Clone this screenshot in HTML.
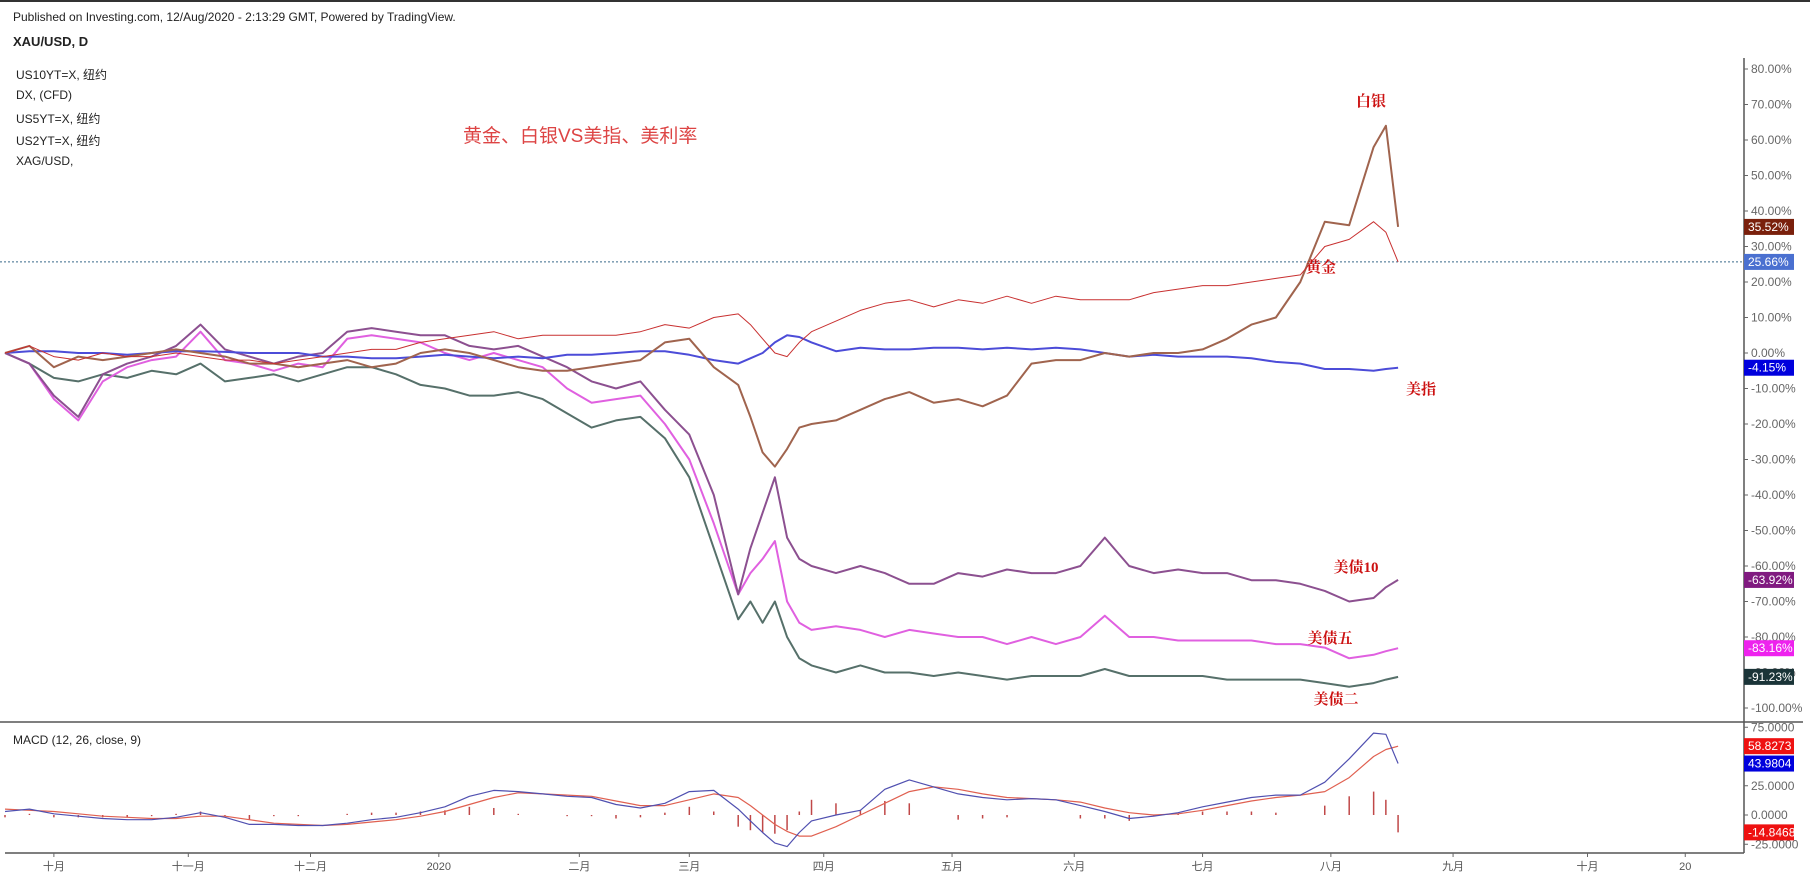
<!DOCTYPE html>
<html><head><meta charset="utf-8">
<style>
html,body{margin:0;padding:0;background:#fff;}
body{width:1810px;height:876px;overflow:hidden;position:relative;font-family:"Liberation Sans","Noto Sans CJK SC",sans-serif;}
.t{position:absolute;font-size:12px;color:#222;white-space:nowrap;}
</style></head>
<body>
<div style="position:absolute;left:0;top:0;width:1810px;height:2px;background:#333"></div>
<div class="t" style="left:13px;top:10px;">Published on Investing.com, 12/Aug/2020 - 2:13:29 GMT, Powered by TradingView.</div>
<div class="t" style="left:13px;top:34px;font-weight:bold;font-size:13px;">XAU/USD, D</div>
<div class="t" style="left:16px;top:66px;">US10YT=X, 纽约</div>
<div class="t" style="left:16px;top:88px;">DX, (CFD)</div>
<div class="t" style="left:16px;top:110px;">US5YT=X, 纽约</div>
<div class="t" style="left:16px;top:132px;">US2YT=X, 纽约</div>
<div class="t" style="left:16px;top:154px;">XAG/USD,</div>
<div class="t" style="left:463px;top:121px;font-size:19px;color:#d44;">黄金、白银VS美指、美利率</div>
<div class="t" style="left:13px;top:733px;">MACD (12, 26, close, 9)</div>

<svg id="chart" width="1810" height="876" style="position:absolute;left:0;top:0" xmlns="http://www.w3.org/2000/svg"></svg>

<script>
const days = [0,4,8,12,16,20,24,28,32,36,40,44,48,52,56,60,64,68,72,76,80,84,88,92,96,100,104,108,112,116,120,122,124,126,128,130,132,136,140,144,148,152,156,160,164,168,172,176,180,184,188,192,196,200,204,208,212,216,220,224,226,228];
const gold = [0,2,-1,-2,0,-1,-1,0,-1,-2,-2,-3,-2,-1,0,1,1,3,4,5,6,4,5,5,5,5,6,8,7,10,11,8,4,0,-1,3,6,9,12,14,15,13,15,14,16,14,16,15,15,15,17,18,19,19,20,21,22,30,32,37,34,25.66];
const silver = [0,2,-4,-1,-2,-1,0,1,0,-1,-3,-3,-4,-3,-2,-4,-3,0,1,0,-2,-4,-5,-5,-4,-3,-2,3,4,-4,-9,-18,-28,-32,-27,-21,-20,-19,-16,-13,-11,-14,-13,-15,-12,-3,-2,-2,0,-1,0,0,1,4,8,10,20,37,36,58,64,35.52];
const dollar = [0,0.5,0.5,0,0,-0.5,0,0.5,0.5,0.3,0,0,0,-1,-1,-1.5,-1.5,-1,-0.5,-1,-1.5,-1,-1.5,-0.5,-0.5,0,0.5,0.5,-0.5,-2,-3,-1.5,0,3,5,4.5,3,0.5,1.5,1,1,1.5,1.5,1,1.5,1,1.5,1,0,-1,-0.5,-1,-1,-1,-1.5,-2.5,-3,-4.5,-4.5,-5,-4.5,-4.15];
const us10y = [0,-3,-12,-18,-6,-3,-1,2,8,1,-1,-3,-1,0,6,7,6,5,5,2,1,2,-1,-4,-8,-10,-8,-16,-23,-40,-68,-55,-45,-35,-52,-58,-60,-62,-60,-62,-65,-65,-62,-63,-61,-62,-62,-60,-52,-60,-62,-61,-62,-62,-64,-64,-65,-67,-70,-69,-66,-63.92];
const us5y = [0,-3,-13,-19,-8,-4,-2,-1,6,-2,-3,-5,-3,-4,4,5,4,3,0,-2,0,-2,-4,-10,-14,-13,-12,-20,-30,-48,-68,-62,-58,-53,-70,-76,-78,-77,-78,-80,-78,-79,-80,-80,-82,-80,-82,-80,-74,-80,-80,-81,-81,-81,-81,-82,-82,-83,-86,-85,-84,-83.16];
const us2y = [0,-3,-7,-8,-6,-7,-5,-6,-3,-8,-7,-6,-8,-6,-4,-4,-6,-9,-10,-12,-12,-11,-13,-17,-21,-19,-18,-24,-35,-55,-75,-70,-76,-70,-80,-86,-88,-90,-88,-90,-90,-91,-90,-91,-92,-91,-91,-91,-89,-91,-91,-91,-91,-92,-92,-92,-92,-93,-94,-93,-92,-91.23];
const macdLine = [3,5,1,-1,-3,-4,-4,-2,2,-2,-8,-8,-9,-9,-7,-4,-2,2,7,16,21,20,18,16,15,9,6,10,20,21,5,-5,-15,-24,-27,-15,-5,0,4,22,30,24,18,15,13,14,13,8,3,-3,-1,2,7,11,15,17,17,28,48,70,69,43.98];
const signalLine = [5,4,3,1,-1,-2,-3,-3,-1,-1,-4,-7,-8,-9,-8,-6,-4,-1,3,9,15,19,18,17,16,12,8,8,13,18,15,8,0,-8,-14,-18,-18,-10,0,10,20,24,22,18,15,14,13,11,6,2,0,1,4,8,12,15,17,20,32,50,56,58.83];
const pctTicks = [80,70,60,50,40,30,20,10,0,-10,-20,-30,-40,-50,-60,-70,-80,-90,-100];
const macdTicks = [75,25,0,-25];
const monthLabels = ["十月","十一月","十二月","2020","二月","三月","四月","五月","六月","七月","八月","九月","十月","20"];
const monthDays = [8,30,50,71,94,112,134,155,175,196,217,237,259,275];

const NS="http://www.w3.org/2000/svg";
const svg=document.getElementById('chart');
const AX=1744;
const xOf=d=>5+d*6.11;
const yP=v=>353-v*3.55;
const yM=v=>815-v*1.17;
function mk(tag,attrs,parent){const e=document.createElementNS(NS,tag);for(const k in attrs)e.setAttribute(k,attrs[k]);(parent||svg).appendChild(e);return e;}

// frame
let e;
e=mk('line',{x1:0,y1:722,x2:1803,y2:722,stroke:'#555','stroke-width':1.5});


e=mk('line',{x1:5,y1:853,x2:AX,y2:853,stroke:'#555','stroke-width':1.5});


e=mk('line',{x1:AX,y1:58,x2:AX,y2:853,stroke:'#555','stroke-width':1.5});



// y ticks
pctTicks.forEach(v=>{
  const y=yP(v);
  const l=mk('line',{x1:AX,y1:y,x2:AX+4,y2:y,stroke:'#666'});
  
  
  const t=mk('text',{x:AX+7,y:y+4,'font-size':12,fill:'#666','font-family':'Liberation Sans, sans-serif'});
  t.textContent=v.toFixed(2)+'%';
  
  
});
macdTicks.forEach(v=>{
  const y=yM(v);
  const l=mk('line',{x1:AX,y1:y,x2:AX+4,y2:y,stroke:'#666'});
  
  
  const t=mk('text',{x:AX+7,y:y+4,'font-size':12,fill:'#666','font-family':'Liberation Sans, sans-serif'});
  t.textContent=v.toFixed(4);
  
  
});
monthLabels.forEach((m,i)=>{
  const x=xOf(monthDays[i]);
  const l=mk('line',{x1:x,y1:853,x2:x,y2:857,stroke:'#666'});
  
  
  const t=mk('text',{x:x,y:870,'font-size':11,fill:'#555','text-anchor':'middle','font-family':'Liberation Sans, Noto Sans CJK SC, sans-serif'});
  t.textContent=m;
  
  
});

// dashed price line
e=mk('line',{x1:0,y1:yP(gold[gold.length-1]),x2:AX,y2:yP(gold[gold.length-1]),stroke:'#3a6a8a','stroke-width':1,'stroke-dasharray':'2,2'});



function series(vals,color,w,name,yf){
  const p=mk('polyline',{points:vals.map((v,i)=>xOf(days[i]).toFixed(1)+','+yf(v).toFixed(1)).join(' '),fill:'none',stroke:color,'stroke-width':w,'stroke-linejoin':'round'});
  
  
}
// MACD histogram
macdLine.forEach((m,i)=>{
  const h=m-signalLine[i];
  const b=mk('line',{x1:xOf(days[i]),x2:xOf(days[i]),y1:yM(0),y2:yM(h),stroke:'#c04848','stroke-width':1.5});
  
  
});
series(signalLine,'#e06050',1.2,'macd-signal-line',yM);
series(macdLine,'#5050b0',1.2,'macd-line',yM);

series(us2y,'#56706a',2,'us2y-line',yP);
series(us5y,'#e060e0',2,'us5y-line',yP);
series(us10y,'#8c5090',2,'us10y-line',yP);
series(dollar,'#4c4cd8',2,'dollar-index-line',yP);
series(silver,'#a0644e',2,'silver-line',yP);
series(gold,'#c83030',1,'gold-line',yP);

function badge(val,txt,bg,name,yf){
  const y=yf(val);
  const r=mk('rect',{x:AX,y:y-8,width:50,height:16,fill:bg});
  
  
  const t=mk('text',{x:AX+4,y:y+4,'font-size':12,fill:'#fff','font-family':'Liberation Sans, sans-serif'});
  t.textContent=txt;
  
  
}
badge(silver[silver.length-1],'35.52%','#7a200c','silver-badge',yP);
badge(gold[gold.length-1],'25.66%','#4a70d0','gold-badge',yP);
badge(dollar[dollar.length-1],'-4.15%','#0000dd','dollar-badge',yP);
badge(us10y[us10y.length-1],'-63.92%','#801a80','us10y-badge',yP);
badge(us5y[us5y.length-1],'-83.16%','#ee22ee','us5y-badge',yP);
badge(us2y[us2y.length-1],'-91.23%','#1a3438','us2y-badge',yP);
badge(signalLine[signalLine.length-1],'58.8273','#ee1111','signal-badge',yM);
badge(macdLine[macdLine.length-1],'43.9804','#0000dd','macd-badge',yM);
badge(macdLine[macdLine.length-1]-signalLine[signalLine.length-1],'-14.8468','#ee1111','histogram-badge',yM);

const ann=[['白银',1371,106,'silver-label'],['黄金',1321,272,'gold-label'],['美指',1421,394,'dollar-label'],['美债10',1356,572,'us10y-label'],['美债五',1330,643,'us5y-label'],['美债二',1336,704,'us2y-label']];
ann.forEach(a=>{
  const t=mk('text',{x:a[1],y:a[2],'font-size':15,'font-weight':'bold',fill:'#cc1111','text-anchor':'middle','font-family':'Liberation Serif, Noto Serif CJK SC, serif'});
  t.textContent=a[0];
  
  
});
</script>
</body></html>
